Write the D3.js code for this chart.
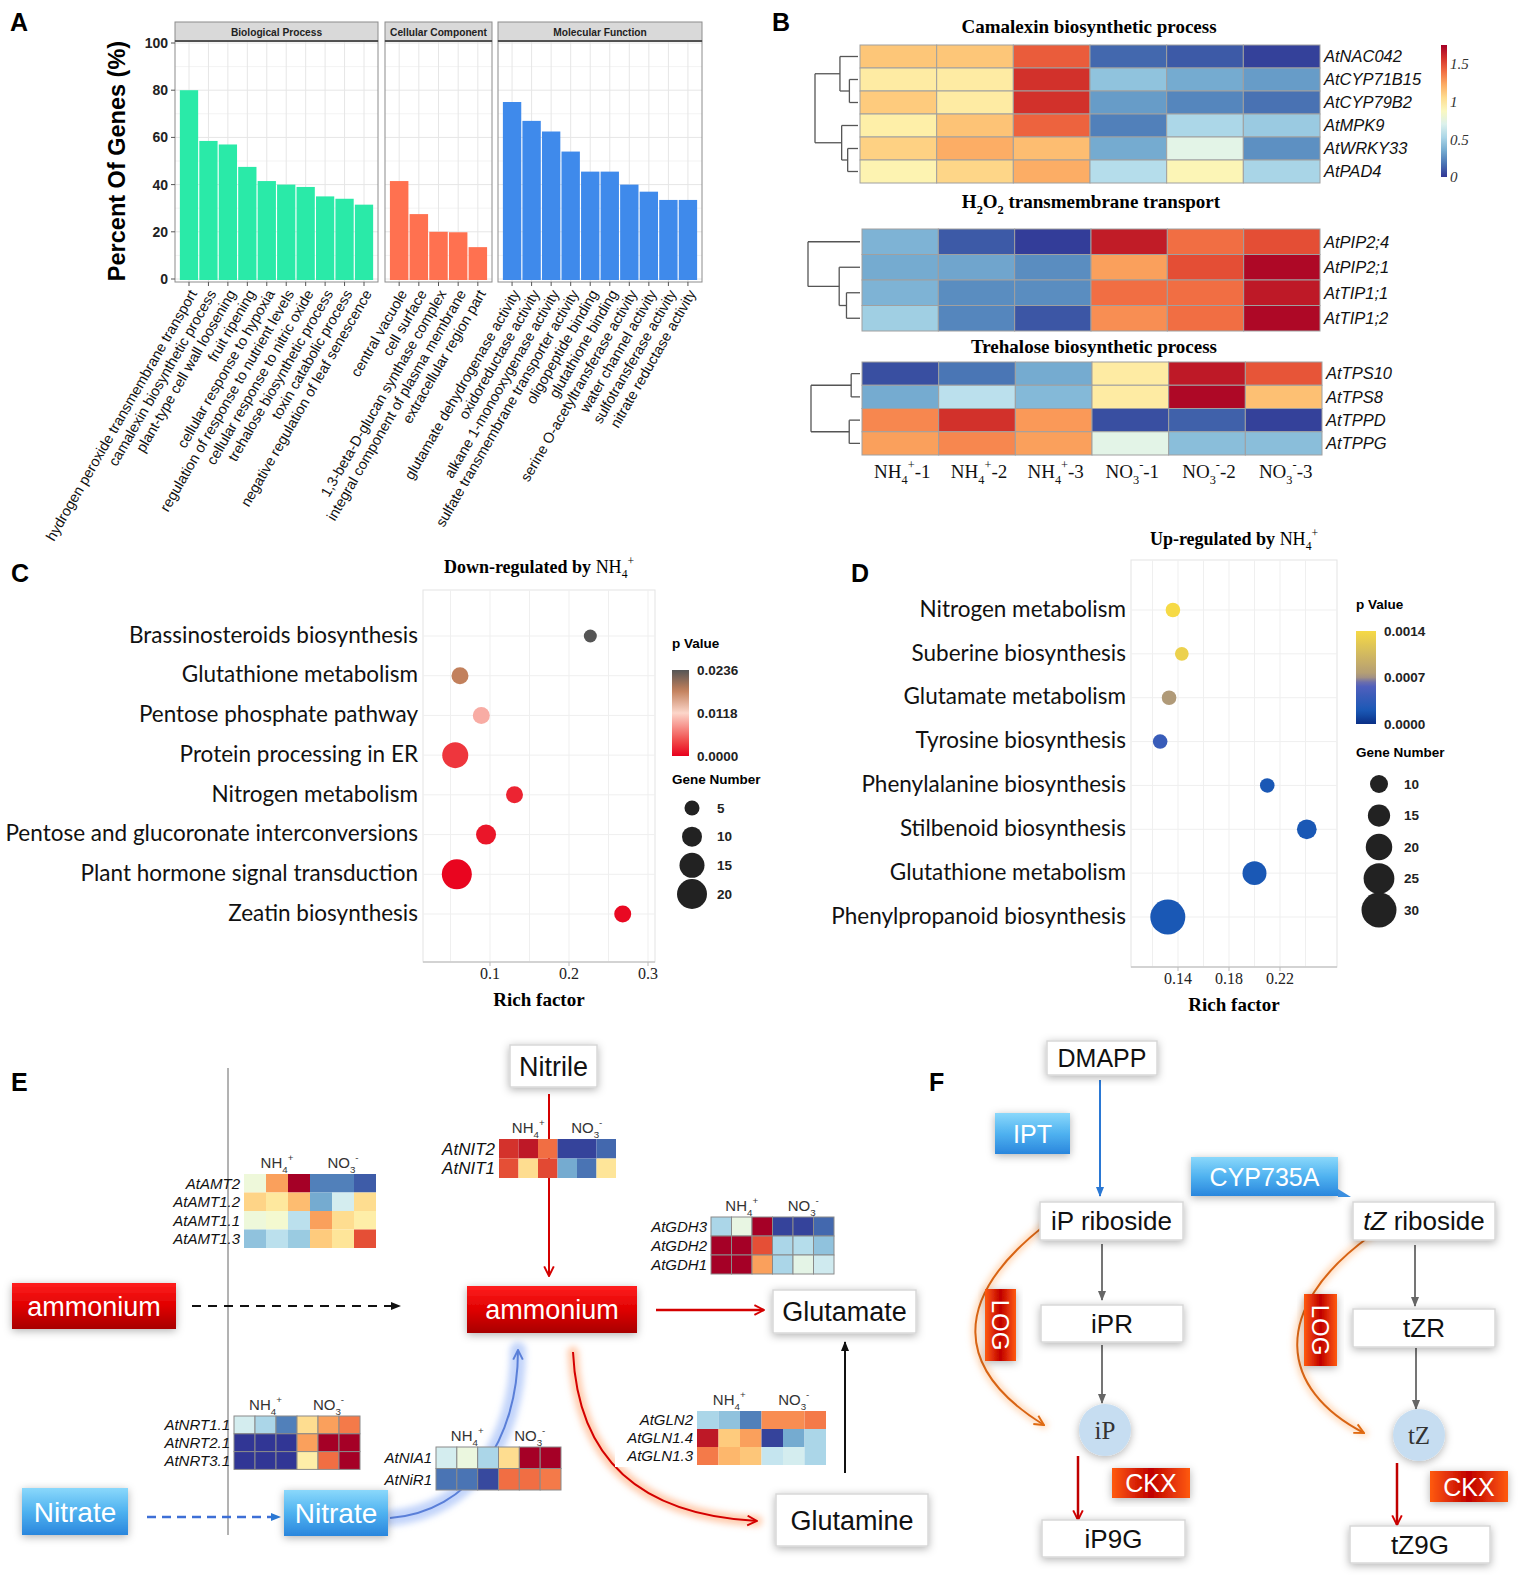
<!DOCTYPE html>
<html lang="en">
<head>
<meta charset="UTF-8">
<title>Nitrogen figure</title>
<script src="https://cdn.jsdelivr.net/npm/d3@7"></script>
<style>body{margin:0;background:#fff}</style>
</head>
<body>
<svg id="fig"></svg>
<script>
// ---------- data ----------
// A: GO enrichment (percent of genes)
const bpTerms = ["hydrogen peroxide transmembrane transport", "camalexin biosynthetic process", "plant-type cell wall loosening",
  "fruit ripening", "cellular response to hypoxia", "regulation of response to nutrient levels", "cellular response to nitric oxide",
  "trehalose biosynthetic process", "toxin catabolic process", "negative regulation of leaf senescence"];
const bpPct = [80, 58.5, 57, 47.5, 41.5, 40, 39, 35, 34, 31.5];
const ccTerms = ["central vacuole", "cell surface", "1,3-beta-D-glucan synthase complex", "integral component of plasma membrane",
  "extracellular region part"];
const ccPct = [41.5, 27.5, 20, 19.8, 13.5];
const mfTerms = ["glutamate dehydrogenase activity", "oxidoreductase activity", "alkane 1-monooxygenase activity",
  "sulfate transmembrane transporter activity", "oligopeptide binding", "glutathione binding", "serine O-acetyltransferase activity",
  "water channel activity", "sulfotransferase activity", "nitrate reductase activity"];
const mfPct = [75, 67, 62.5, 54, 45.5, 45.5, 40, 37, 33.5, 33.5];
const yTicksA = [0, 20, 40, 60, 80, 100];

// B: heatmaps, scaled expression 0..1.75
const camGenes = ["AtNAC042", "AtCYP71B15", "AtCYP79B2", "AtMPK9", "AtWRKY33", "AtPAD4"];
const camVals = [
  [1.14, 1.14, 1.45, 0.14, 0.1, 0.03],
  [0.98, 0.98, 1.58, 0.44, 0.35, 0.3],
  [1.12, 0.98, 1.58, 0.3, 0.23, 0.17],
  [0.96, 1.15, 1.43, 0.21, 0.53, 0.47],
  [1.1, 1.22, 1.17, 0.35, 0.73, 0.26],
  [0.93, 1.08, 1.22, 0.56, 0.91, 0.52]];
const h2oGenes = ["AtPIP2;4", "AtPIP2;1", "AtTIP1;1", "AtTIP1;2"];
const h2oVals = [
  [0.38, 0.1, 0.02, 1.65, 1.4, 1.49],
  [0.35, 0.33, 0.25, 1.26, 1.49, 1.72],
  [0.38, 0.25, 0.25, 1.4, 1.4, 1.66],
  [0.49, 0.23, 0.09, 1.31, 1.4, 1.72]];
const treGenes = ["AtTPS10", "AtTPS8", "AtTPPD", "AtTPPG"];
const treVals = [
  [0.07, 0.18, 0.35, 0.98, 1.66, 1.47],
  [0.35, 0.58, 0.4, 0.98, 1.72, 1.16],
  [1.33, 1.58, 1.28, 0.07, 0.12, 0.03],
  [1.26, 1.33, 1.26, 0.73, 0.42, 0.42]];
const sampleCols = ["NH4+-1", "NH4+-2", "NH4+-3", "NO3--1", "NO3--2", "NO3--3"];
const heatTicks = [0, 0.5, 1, 1.5];
// dendrograms: leaf = row index, node = {h, c}
const camTree = {h: 1, c: [{h: 0.42, c: [0, {h: 0.2, c: [1, 2]}]}, {h: 0.38, c: [3, {h: 0.24, c: [4, 5]}]}]};
const h2oTree = {h: 1, c: [0, {h: 0.4, c: [1, {h: 0.26, c: [2, 3]}]}]};
const treTree = {h: 1, c: [{h: 0.18, c: [0, 1]}, {h: 0.22, c: [2, 3]}]};

// C: KEGG down-regulated by NH4+
const downTerms = ["Brassinosteroids biosynthesis", "Glutathione metabolism", "Pentose phosphate pathway", "Protein processing in ER",
  "Nitrogen metabolism", "Pentose and glucoronate interconversions", "Plant hormone signal transduction", "Zeatin biosynthesis"];
const downRich = [0.227, 0.062, 0.089, 0.056, 0.131, 0.095, 0.058, 0.268];
const downGenes = [3, 7, 7, 16, 7, 10, 20, 7];
const downP = [0.0236, 0.018, 0.0095, 0.003, 0.002, 0.0012, 0.0003, 0.0005];
const downTicks = [0.1, 0.2, 0.3];
const downSizeLegend = [5, 10, 15, 20];
const downPTicks = [0.0236, 0.0118, 0.0];

// D: KEGG up-regulated by NH4+
const upTerms = ["Nitrogen metabolism", "Suberine biosynthesis", "Glutamate metabolism", "Tyrosine biosynthesis",
  "Phenylalanine biosynthesis", "Stilbenoid biosynthesis", "Glutathione metabolism", "Phenylpropanoid biosynthesis"];
const upRich = [0.136, 0.143, 0.133, 0.126, 0.21, 0.241, 0.2, 0.132];
const upGenes = [6, 5, 6, 6, 6, 12, 17, 30];
const upP = [0.0014, 0.0013, 0.00072, 0.0004, 0.0002, 0.0002, 0.0002, 0.0002];
const upTicks = [0.14, 0.18, 0.22];
const upSizeLegend = [10, 15, 20, 25, 30];
const upPTicks = [0.0014, 0.0007, 0.0];

// E: pathway heatmaps (0 = low/blue, 1 = high/red), columns NH4+ x3, NO3- x3
const amtGenes = ["AtAMT2", "AtAMT1.2", "AtAMT1.1", "AtAMT1.3"];
const amtVals = [[0.45, 0.72, 1.0, 0.12, 0.12, 0.06], [0.62, 0.57, 0.67, 0.2, 0.38, 0.6],
  [0.45, 0.47, 0.33, 0.72, 0.6, 0.55], [0.25, 0.33, 0.27, 0.64, 0.58, 0.85]];
const nrtGenes = ["AtNRT1.1", "AtNRT2.1", "AtNRT3.1"];
const nrtVals = [[0.38, 0.3, 0.12, 0.6, 0.72, 0.78], [0.0, 0.0, 0.0, 0.72, 1.0, 1.0], [0.0, 0.0, 0.0, 0.55, 0.8, 1.0]];
const niaGenes = ["AtNIA1", "AtNiR1"];
const niaVals = [[0.38, 0.44, 0.3, 0.6, 1.0, 1.0], [0.1, 0.1, 0.03, 0.8, 0.8, 0.78]];
const nitGenes = ["AtNIT2", "AtNIT1"];
const nitVals = [[0.9, 0.95, 0.8, 0.02, 0.02, 0.08], [0.85, 0.6, 0.86, 0.2, 0.1, 0.58]];
const gdhGenes = ["AtGDH3", "AtGDH2", "AtGDH1"];
const gdhVals = [[0.3, 0.43, 1.0, 0.02, 0.02, 0.08], [1.0, 1.0, 0.85, 0.3, 0.32, 0.25], [1.0, 1.0, 0.72, 0.3, 0.42, 0.37]];
const glnGenes = ["AtGLN2", "AtGLN1.4", "AtGLN1.3"];
const glnVals = [[0.3, 0.25, 0.12, 0.75, 0.75, 0.78], [0.95, 0.64, 0.72, 0.02, 0.2, 0.3], [0.78, 0.68, 0.65, 0.35, 0.38, 0.3]];

// ---------- setup ----------
const W = 1535, H = 1581;
const SANS = "'Liberation Sans', Arial, sans-serif", SERIF = "'Liberation Serif', 'Times New Roman', serif";
const svg = d3.select("#fig").attr("width", W).attr("height", H).attr("font-family", SANS);
const defs = svg.append("defs");

const heat = v => d3.interpolateRdYlBu(1 - v);

function grad(id, stops, x2, y2) {
  const g = defs.append("linearGradient").attr("id", id)
    .attr("x1", 0).attr("y1", 0).attr("x2", x2).attr("y2", y2);
  stops.forEach(s => g.append("stop").attr("offset", s[0]).attr("stop-color", s[1]));
}
grad("gRed", [[0, "#ff1f1f"], [0.5, "#e00000"], [1, "#a80000"]], 0, 1);
grad("gBlue", [[0, "#8ad8fb"], [0.5, "#4fb2f0"], [1, "#2a86dd"]], 0, 1);
grad("gCkx", [[0, "#ff5a10"], [0.5, "#c00000"], [1, "#ff5a10"]], 1, 0);
grad("gLog", [[0, "#ff5a10"], [0.5, "#c00000"], [1, "#ff5a10"]], 1, 0);

const sh = defs.append("filter").attr("id", "shadow").attr("x", "-20%").attr("y", "-30%").attr("width", "140%").attr("height", "160%");
sh.append("feDropShadow").attr("dx", 0).attr("dy", 2).attr("stdDeviation", 4).attr("flood-color", "#000").attr("flood-opacity", 0.3);
const gl = defs.append("filter").attr("id", "glow").attr("x", "-50%").attr("y", "-50%").attr("width", "200%").attr("height", "200%");
gl.append("feGaussianBlur").attr("stdDeviation", 3);

function marker(id, color, open) {
  const m = defs.append("marker").attr("id", id).attr("viewBox", "0 0 10 10").attr("refX", 9).attr("refY", 5)
    .attr("markerWidth", 7).attr("markerHeight", 7).attr("orient", "auto").attr("markerUnits", "userSpaceOnUse");
  if (open) {
    m.attr("markerWidth", 12).attr("markerHeight", 12);
    m.append("path").attr("d", "M1,1 L9,5 L1,9").attr("fill", "none").attr("stroke", color).attr("stroke-width", 1.6);
  } else {
    m.attr("markerWidth", 10).attr("markerHeight", 10);
    m.append("path").attr("d", "M0,1 L10,5 L0,9 z").attr("fill", color);
  }
}
marker("aRed", "#d40000", true);
marker("aBlueOpen", "#5a7fd8", true);
marker("aBlack", "#111", false);
marker("aBlue", "#2a78d4", false);
marker("aGray", "#666", false);
marker("aOrange", "#e06a10", true);

// chemical formula helper: parts = [[text, "sub"|"sup"|""]]
function rich(t, parts, fs) {
  let off = 0;
  parts.forEach(([s, k]) => {
    const target = k === "sub" ? fs * 0.3 : k === "sup" ? -fs * 0.45 : 0;
    t.append("tspan").attr("dy", target - off).attr("font-size", k ? fs * 0.65 : fs).text(s);
    off = target;
  });
}
const NH4 = [["NH", ""], ["4", "sub"], ["+", "sup"]];
const NO3 = [["NO", ""], ["3", "sub"], ["-", "sup"]];

function panelLetter(x, y, s) {
  svg.append("text").attr("x", x).attr("y", y).attr("font-size", 25).attr("font-weight", "bold").text(s);
}
panelLetter(10, 31, "A"); panelLetter(772, 31, "B"); panelLetter(11, 582, "C");
panelLetter(851, 582, "D"); panelLetter(11, 1091, "E"); panelLetter(929, 1091, "F");

// ---------- Panel A ----------
const gA = svg.append("g");
const yA = d3.scaleLinear().domain([0, 100]).range([279, 43]);
const facets = [
  {name: "Biological Process", terms: bpTerms, vals: bpPct, color: "#2aeaa8", x0: 175, x1: 378},
  {name: "Cellular Component", terms: ccTerms, vals: ccPct, color: "#ff7150", x0: 385, x1: 492},
  {name: "Molecular Function", terms: mfTerms, vals: mfPct, color: "#3f8aeb", x0: 498, x1: 702}
];
facets.forEach(f => {
  const xb = d3.scaleBand().domain(f.terms).range([f.x0, f.x1]).paddingInner(0.06).paddingOuter(0.25);
  const g = gA.append("g");
  // grid
  g.selectAll(".minor").data(d3.range(10, 100, 20)).enter().append("line")
    .attr("x1", f.x0).attr("x2", f.x1).attr("y1", d => yA(d)).attr("y2", d => yA(d)).attr("stroke", "#f3f3f3");
  g.selectAll(".major").data(yTicksA).enter().append("line")
    .attr("x1", f.x0).attr("x2", f.x1).attr("y1", d => yA(d)).attr("y2", d => yA(d)).attr("stroke", "#e6e6e6");
  g.selectAll(".vg").data(f.terms).enter().append("line")
    .attr("x1", d => xb(d) + xb.bandwidth() / 2).attr("x2", d => xb(d) + xb.bandwidth() / 2)
    .attr("y1", 41).attr("y2", 282).attr("stroke", "#e6e6e6");
  g.selectAll(".bar").data(f.vals).enter().append("rect")
    .attr("x", (d, i) => xb(f.terms[i])).attr("width", xb.bandwidth())
    .attr("y", d => yA(d)).attr("height", d => yA(0) + 1 - yA(d)).attr("fill", f.color);
  g.append("rect").attr("x", f.x0).attr("y", 41).attr("width", f.x1 - f.x0).attr("height", 241)
    .attr("fill", "none").attr("stroke", "#8c8c8c").attr("stroke-width", 1);
  // strip
  g.append("rect").attr("x", f.x0).attr("y", 22).attr("width", f.x1 - f.x0).attr("height", 19)
    .attr("fill", "#d9d9d9").attr("stroke", "#8c8c8c");
  g.append("line").attr("x1", f.x0).attr("x2", f.x1).attr("y1", 41).attr("y2", 41).attr("stroke", "#333").attr("stroke-width", 1.5);
  g.append("text").attr("x", (f.x0 + f.x1) / 2).attr("y", 35.5).attr("text-anchor", "middle")
    .attr("font-size", 10.2).attr("font-weight", "bold").attr("fill", "#222").text(f.name);
  // x ticks and labels
  g.selectAll(".tk").data(f.terms).enter().append("line")
    .attr("x1", d => xb(d) + xb.bandwidth() / 2).attr("x2", d => xb(d) + xb.bandwidth() / 2)
    .attr("y1", 282).attr("y2", 286).attr("stroke", "#555");
  g.selectAll(".lab").data(f.terms).enter().append("text")
    .attr("transform", d => `translate(${xb(d) + xb.bandwidth() / 2 + 4},${291}) rotate(-60)`)
    .attr("text-anchor", "end").attr("dy", "0.35em").attr("font-size", 14.5).attr("fill", "#111").text(d => d);
});
gA.selectAll(".yt").data(yTicksA).enter().append("text")
  .attr("x", 168).attr("y", d => yA(d)).attr("dy", "0.35em").attr("text-anchor", "end")
  .attr("font-size", 14).attr("font-weight", "bold").attr("fill", "#222").text(d => d);
gA.selectAll(".ytk").data(yTicksA).enter().append("line")
  .attr("x1", 171).attr("x2", 175).attr("y1", d => yA(d)).attr("y2", d => yA(d)).attr("stroke", "#555");
gA.append("text").attr("transform", "translate(125,161) rotate(-90)").attr("text-anchor", "middle")
  .attr("font-size", 23.5).attr("font-weight", "bold").text("Percent Of Genes (%)");

// ---------- Panel B ----------
const heatB = d3.scaleSequential(v => d3.interpolateRdYlBu(1 - v)).domain([0, 1.75]);
function heatBlock(genes, vals, x0, x1, y0, y1, tree, rootX) {
  const xs = d3.scaleBand().domain(d3.range(6)).range([x0, x1]);
  const ys = d3.scaleBand().domain(genes).range([y0, y1]);
  const g = svg.append("g");
  genes.forEach((gene, i) => {
    g.selectAll(null).data(vals[i]).enter().append("rect")
      .attr("x", (d, j) => xs(j)).attr("y", ys(gene)).attr("width", xs.bandwidth()).attr("height", ys.bandwidth())
      .attr("fill", d => heatB(d)).attr("stroke", "#a0a0a0").attr("stroke-width", 1);
  });
  g.selectAll(".rl").data(genes).enter().append("text")
    .attr("x", x1 + 4).attr("y", d => ys(d) + ys.bandwidth() / 2).attr("dy", "0.35em")
    .attr("font-size", 16.5).attr("font-style", "italic").attr("fill", "#111").text(d => d);
  // dendrogram
  const hx = d3.scaleLinear().domain([0, 1]).range([x0 - 2, rootX]);
  function walk(n) {
    if (typeof n === "number") return {x: hx(0), y: ys(genes[n]) + ys.bandwidth() / 2};
    const kids = n.c.map(walk);
    const x = hx(n.h);
    const ya = d3.min(kids, k => k.y), yb = d3.max(kids, k => k.y);
    g.append("line").attr("x1", x).attr("x2", x).attr("y1", ya).attr("y2", yb).attr("stroke", "#555").attr("stroke-width", 1.3);
    kids.forEach(k => g.append("line").attr("x1", x).attr("x2", k.x).attr("y1", k.y).attr("y2", k.y)
      .attr("stroke", "#555").attr("stroke-width", 1.3));
    return {x, y: (ya + yb) / 2};
  }
  walk(tree);
  return xs;
}
function titleB(x, y, parts) {
  const t = svg.append("text").attr("x", x).attr("y", y).attr("text-anchor", "middle")
    .attr("font-family", SERIF).attr("font-weight", "bold").attr("font-size", 19);
  rich(t, parts, 19);
}
titleB(1089, 33, [["Camalexin biosynthetic process", ""]]);
titleB(1091, 208, [["H", ""], ["2", "sub"], ["O", ""], ["2", "sub"], [" transmembrane transport", ""]]);
titleB(1094, 353, [["Trehalose biosynthetic process", ""]]);
heatBlock(camGenes, camVals, 860, 1320, 45, 183, camTree, 815);
heatBlock(h2oGenes, h2oVals, 862, 1320, 229, 331, h2oTree, 808);
const xsTre = heatBlock(treGenes, treVals, 862, 1322, 362, 455, treTree, 811);
sampleCols.forEach((c, i) => {
  const ion = c.startsWith("NH") ? NH4 : NO3;
  const t = svg.append("text").attr("x", xsTre(i) + xsTre.bandwidth() / 2 + 2).attr("y", 478).attr("text-anchor", "middle")
    .attr("font-family", SERIF).attr("font-size", 19).attr("fill", "#111");
  rich(t, ion.concat([[c.slice(c.length - 2), ""]]), 19);
});
// colour bar
const cbY = d3.scaleLinear().domain([0, 1.75]).range([177, 45]);
grad("gHeatB", d3.range(0, 1.0001, 0.1).map(t => [t, heatB(1.75 * (1 - t))]), 0, 1);
svg.append("rect").attr("x", 1441).attr("y", 45).attr("width", 6).attr("height", 132).attr("fill", "url(#gHeatB)");
svg.selectAll(".cbt").data(heatTicks).enter().append("text")
  .attr("x", 1450).attr("y", d => cbY(d)).attr("dy", "0.35em").attr("font-family", SERIF).attr("font-style", "italic")
  .attr("font-size", 15).attr("fill", "#333").text(d => d);

// ---------- Panels C and D (bubble charts) ----------
function bubble(o) {
  const g = svg.append("g");
  const x = d3.scaleLinear().domain(o.xDom).range(o.xRange);
  const y = d3.scalePoint().domain(o.terms).range(o.yRange);
  g.append("rect").attr("x", o.px0).attr("y", o.py0).attr("width", o.px1 - o.px0).attr("height", o.py1 - o.py0)
    .attr("fill", "#fff").attr("stroke", "#e3e3e3");
  g.selectAll(".vg").data(o.grid).enter().append("line")
    .attr("x1", d => x(d)).attr("x2", d => x(d)).attr("y1", o.py0).attr("y2", o.py1).attr("stroke", "#efefef");
  g.selectAll(".hg").data(o.terms).enter().append("line")
    .attr("x1", o.px0).attr("x2", o.px1).attr("y1", d => y(d)).attr("y2", d => y(d)).attr("stroke", "#efefef");
  g.append("line").attr("x1", o.px0).attr("x2", o.px1).attr("y1", o.py1).attr("y2", o.py1).attr("stroke", "#c8c8c8").attr("stroke-width", 1.5);
  g.selectAll(".tk").data(o.ticks).enter().append("line")
    .attr("x1", d => x(d)).attr("x2", d => x(d)).attr("y1", o.py1).attr("y2", o.py1 + 4).attr("stroke", "#bbb");
  g.selectAll(".tl").data(o.ticks).enter().append("text")
    .attr("x", d => x(d)).attr("y", o.py1 + 17).attr("text-anchor", "middle")
    .attr("font-family", SERIF).attr("font-size", 16).attr("fill", "#222").text(d => d);
  g.append("text").attr("x", (o.px0 + o.px1) / 2).attr("y", o.py1 + 44).attr("text-anchor", "middle")
    .attr("font-family", SERIF).attr("font-weight", "bold").attr("font-size", 19).text("Rich factor");
  const tt = g.append("text").attr("x", (o.px0 + o.px1) / 2).attr("y", o.titleY).attr("text-anchor", "middle")
    .attr("font-family", SERIF).attr("font-size", 18);
  tt.append("tspan").attr("font-weight", "bold").text(o.title + " ");
  rich(tt, NH4, 18);
  g.selectAll(".cl").data(o.terms).enter().append("text")
    .attr("x", o.px0 - 5).attr("y", d => y(d)).attr("dy", "0.3em").attr("text-anchor", "end")
    .attr("font-family", "Lato, 'Open Sans', sans-serif").attr("font-size", 22.5).attr("fill", "#111").text(d => d);
  g.selectAll(".pt").data(o.terms).enter().append("circle")
    .attr("cx", (d, i) => x(o.rich[i])).attr("cy", d => y(d))
    .attr("r", (d, i) => o.size(o.genes[i])).attr("fill", (d, i) => o.color(o.p[i]));
  // p value legend
  const lx = o.legX;
  g.append("text").attr("x", lx).attr("y", o.legY).attr("font-weight", "bold").attr("font-size", 13.5).text("p Value");
  const cy = d3.scaleLinear().domain([o.pTicks[2], o.pTicks[0]]).range([o.legY + o.barH + 22, o.legY + 22]);
  const gid = "grad" + o.id;
  grad(gid, d3.range(0, 1.0001, 0.05).map(t => [t, o.color(o.pTicks[0] * (1 - t))]), 0, 1);
  g.append("rect").attr("x", lx).attr("y", o.legY + 22).attr("width", o.barW).attr("height", o.barH).attr("fill", `url(#${gid})`);
  g.selectAll(".pl").data(o.pTicks).enter().append("text")
    .attr("x", lx + o.barW + 8).attr("y", d => cy(d)).attr("dy", "0.35em")
    .attr("font-weight", "bold").attr("font-size", 13.5).attr("fill", "#222").text(d => d.toFixed(4));
  g.append("text").attr("x", lx).attr("y", o.gnY).attr("font-weight", "bold").attr("font-size", 13.5).text("Gene Number");
  const sy = d3.scalePoint().domain(o.sizeLeg).range(o.sizeYs);
  g.selectAll(".sl").data(o.sizeLeg).enter().append("circle")
    .attr("cx", o.sizeX).attr("cy", d => sy(d)).attr("r", d => o.size(d)).attr("fill", "#222");
  g.selectAll(".st").data(o.sizeLeg).enter().append("text")
    .attr("x", o.sizeX + 25).attr("y", d => sy(d)).attr("dy", "0.35em")
    .attr("font-weight", "bold").attr("font-size", 13.5).attr("fill", "#222").text(d => d);
}
bubble({
  id: "C", terms: downTerms, rich: downRich, genes: downGenes, p: downP, ticks: downTicks,
  xDom: [0.1, 0.3], xRange: [490, 648], yRange: [636, 914], grid: [0.05, 0.1, 0.15, 0.2, 0.25, 0.3],
  px0: 423, px1: 655, py0: 590, py1: 962, titleY: 573, title: "Down-regulated by",
  size: d3.scaleLinear().domain([5, 20]).range([7.5, 15]),
  color: d3.scaleLinear().domain([0, 0.004, 0.0118, 0.018, 0.0236]).range(["#e8001c", "#f04848", "#fcd6ca", "#c2805c", "#555555"]),
  legX: 672, legY: 648, barW: 17, barH: 86, pTicks: downPTicks,
  gnY: 784, sizeLeg: downSizeLegend, sizeYs: [808, 894], sizeX: 692
});
bubble({
  id: "D", terms: upTerms, rich: upRich, genes: upGenes, p: upP, ticks: upTicks,
  xDom: [0.14, 0.22], xRange: [1178, 1280], yRange: [610, 917], grid: [0.12, 0.14, 0.16, 0.18, 0.2, 0.22, 0.24],
  px0: 1131, px1: 1337, py0: 560, py1: 967, titleY: 545, title: "Up-regulated by",
  size: d3.scaleLinear().domain([10, 30]).range([9, 17.5]),
  color: d3.scaleLinear().domain([0, 0.0002, 0.0006, 0.00072, 0.0014]).range(["#0a2f85", "#1a58b5", "#5560bd", "#b09a78", "#f6da46"]),
  legX: 1356, legY: 609, barW: 20, barH: 93, pTicks: upPTicks,
  gnY: 757, sizeLeg: upSizeLegend, sizeYs: [784, 910], sizeX: 1379
});

// ---------- Panel E (pathway) ----------
function smallHeat(genes, vals, x0, x1, y0, rowH, border, fs, labelBg) {
  const xs = d3.scaleBand().domain(d3.range(6)).range([x0, x1]);
  const ys = d3.scaleBand().domain(genes).range([y0, y0 + rowH * genes.length]);
  const g = svg.append("g");
  if (labelBg) g.append("rect").attr("x", x0 - 82).attr("y", y0 - 2).attr("width", 80).attr("height", rowH * genes.length + 4).attr("fill", "#fff");
  genes.forEach((gene, i) => {
    g.selectAll(null).data(vals[i]).enter().append("rect")
      .attr("x", (d, j) => xs(j)).attr("y", ys(gene)).attr("width", xs.bandwidth()).attr("height", ys.bandwidth())
      .attr("fill", d => heat(d)).attr("stroke", border ? "#8a8a8a" : "none").attr("stroke-width", 1);
  });
  g.selectAll(".gl").data(genes).enter().append("text")
    .attr("x", x0 - 4).attr("y", d => ys(d) + ys.bandwidth() / 2).attr("dy", "0.36em").attr("text-anchor", "end")
    .attr("font-size", fs).attr("font-style", "italic").attr("fill", "#111").text(d => d);
  [[NH4, 1], [NO3, 4]].forEach(([ion, c]) => {
    const t = g.append("text").attr("x", xs(c) + xs.bandwidth() / 2).attr("y", y0 - 6).attr("text-anchor", "middle")
      .attr("font-size", 15).attr("fill", "#333");
    rich(t, ion, 15);
  });
}
svg.append("line").attr("x1", 228).attr("x2", 228).attr("y1", 1068).attr("y2", 1535).attr("stroke", "#666");

function box(x, y, w, h, label, style, fs) {
  const g = svg.append("g");
  const fill = {white: "#fff", red: "url(#gRed)", blue: "url(#gBlue)", ckx: "url(#gCkx)"}[style];
  g.append("rect").attr("x", x).attr("y", y).attr("width", w).attr("height", h)
    .attr("fill", fill).attr("stroke", style === "white" ? "#d8d8d8" : "none").attr("stroke-width", 1.5)
    .attr("filter", "url(#shadow)");
  const t = g.append("text").attr("x", x + w / 2).attr("y", y + h / 2).attr("dy", "0.36em").attr("text-anchor", "middle")
    .attr("font-size", fs).attr("fill", style === "white" ? "#111" : "#fff");
  if (Array.isArray(label)) label.forEach(([s, it]) => t.append("tspan").attr("font-style", it ? "italic" : "normal").text(s));
  else t.text(label);
  return g;
}
function arrow(d, color, markerId, glowColor, width, dash, glowW) {
  if (glowColor) svg.append("path").attr("d", d).attr("fill", "none").attr("stroke", glowColor)
    .attr("stroke-width", glowW || 11).attr("stroke-opacity", 0.55).attr("stroke-linecap", "round").attr("filter", "url(#glow)");
  svg.append("path").attr("d", d).attr("fill", "none").attr("stroke", color).attr("stroke-width", width || 2)
    .attr("stroke-dasharray", dash || null).attr("marker-end", markerId ? `url(#${markerId})` : null);
}

// arrows behind boxes
arrow("M549,1094 L549,1276", "#d40000", "aRed", "#ffa36b", 2);
arrow("M656,1310 L764,1310", "#d40000", "aRed", "#ffa36b", 2.5);
arrow("M573,1352 C578,1460 640,1515 757,1521", "#d40000", "aRed", "#ffa36b", 2);
arrow("M390,1518 C470,1512 518,1440 518,1350", "#5a7fd8", "aBlueOpen", "#8fb0f5", 2, null, 16);
arrow("M845,1473 L845,1342", "#111", "aBlack", null, 2);
arrow("M192,1306 L400,1306", "#111", "aBlack", null, 2, "9,7");
arrow("M147,1517 L280,1517", "#3d6fd6", "aBlue", "#9bbcf5", 2.5, "9,6");

box(12, 1283, 164, 46, "ammonium", "red", 27);
box(467, 1286, 170, 47, "ammonium", "red", 27);
box(510, 1045, 87, 42, "Nitrile", "white", 27);
box(773, 1290, 143, 43, "Glutamate", "white", 27);
box(776, 1494, 152, 52, "Glutamine", "white", 27);
box(22, 1488, 106, 47, "Nitrate", "blue", 28);
box(284, 1490, 104, 46, "Nitrate", "blue", 28);

smallHeat(amtGenes, amtVals, 244, 376, 1174, 18.5, false, 15);
smallHeat(nrtGenes, nrtVals, 234, 360, 1416, 17.8, true, 15);
smallHeat(niaGenes, niaVals, 436, 561, 1447, 21.5, true, 15);
smallHeat(nitGenes, nitVals, 499, 616, 1139, 19.5, false, 17);
smallHeat(gdhGenes, gdhVals, 711, 834, 1217, 19, true, 15);
smallHeat(glnGenes, glnVals, 697, 826, 1411, 18, false, 15, true);

// ---------- Panel F (cytokinin) ----------
arrow("M1100,1080 L1100,1196", "#2a78d4", "aBlue", "#a8d4fa", 2);
arrow("M1102,1244 L1102,1300", "#666", "aGray", null, 1.8);
arrow("M1102,1345 L1102,1403", "#666", "aGray", null, 1.8);
arrow("M1415,1245 L1415,1306", "#666", "aGray", null, 1.8);
arrow("M1416,1348 L1416,1409", "#666", "aGray", null, 1.8);
arrow("M1078,1456 L1078,1520", "#c00000", "aRed", "#ffb07a", 2.5);
arrow("M1397,1463 L1397,1525", "#c00000", "aRed", "#ffb07a", 2.5);
arrow("M1044,1226 C950,1300 955,1370 1044,1425", "#d86414", "aOrange", "#ffc08a", 2, null, 8);
arrow("M1370,1236 C1268,1310 1280,1390 1364,1433", "#d86414", "aOrange", "#ffc08a", 2, null, 8);

box(1047, 1041, 110, 34, "DMAPP", "white", 25);
box(995, 1113, 75, 41, "IPT", "blue", 25);
box(1191, 1157, 147, 39, "CYP735A", "blue", 25);
svg.append("path").attr("d", "M1338,1189 L1351,1197 L1338,1197 z").attr("fill", "#3b8fe0");
box(1040, 1202, 143, 38, "iP riboside", "white", 26);
box(1353, 1202, 142, 38, [["tZ", true], [" riboside", false]], "white", 26);
box(1041, 1305, 142, 37, "iPR", "white", 26);
box(1353, 1309, 142, 38, "tZR", "white", 26);
box(1042, 1520, 143, 37, "iP9G", "white", 26);
box(1350, 1526, 140, 37, "tZ9G", "white", 26);
box(1112, 1468, 78, 30, "CKX", "ckx", 25);
box(1430, 1471, 78, 31, "CKX", "ckx", 25);

function logBox(x, y, w, h) {
  svg.append("rect").attr("x", x).attr("y", y).attr("width", w).attr("height", h).attr("fill", "url(#gLog)").attr("filter", "url(#shadow)");
  svg.append("text").attr("transform", `translate(${x + w / 2},${y + h / 2}) rotate(90)`).attr("text-anchor", "middle")
    .attr("dy", "0.36em").attr("font-size", 24).attr("fill", "#fff").text("LOG");
}
logBox(985, 1289, 31, 72);
logBox(1304, 1294, 33, 72);

[["iP", 1105, 1430], ["tZ", 1419, 1435]].forEach(([s, cx, cy]) => {
  svg.append("circle").attr("cx", cx).attr("cy", cy).attr("r", 26).attr("fill", "#c6ddf1").attr("filter", "url(#shadow)");
  svg.append("text").attr("x", cx).attr("y", cy).attr("dy", "0.35em").attr("text-anchor", "middle")
    .attr("font-family", SERIF).attr("font-size", 25).attr("fill", "#333").text(s);
});
</script>
</body>
</html>
